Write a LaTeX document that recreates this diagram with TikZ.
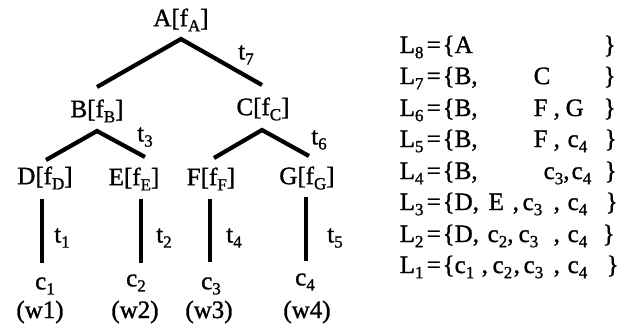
\documentclass[tikz,border=0pt]{standalone}
\usepackage{fontspec}
\setmainfont{Liberation Serif}[BoldFont=Liberation Serif, BoldFeatures={FakeBold=1.2}]
\newcommand{\sbs}[1]{\raisebox{-0.45ex}{\fontsize{17}{17}\selectfont #1}}
\newcommand{\colat}[2]{\makebox[0pt][l]{\hspace*{#1}#2}}
\newcommand{\pre}[1]{\colat{0pt}{L\sbs{#1}}\colat{27pt}{=}\colat{43pt}{\{}}
\begin{document}
\begin{tikzpicture}[x=1pt,y=-1pt,
  lab/.style={font=\fontsize{25}{25}\selectfont\bfseries, inner sep=0pt},
  tl/.style={font=\fontsize{25}{25}\selectfont\bfseries, inner sep=0pt},
  edge/.style={line width=4.2pt},
  row/.style={anchor=west, font=\fontsize{25}{25}\selectfont\bfseries, inner sep=0pt}]
\fill[white] (0,0) rectangle (622,327);
\useasboundingbox (0,0) rectangle (622,327);
% tree labels
\node[lab] (A) at (181,20) {A[f\sbs{A}]};
\node[lab] (B) at (97,111) {B[f\sbs{B}]};
\node[lab] (C) at (263,109) {C[f\sbs{C}]};
\node[lab] (D) at (45,178) {D[f\sbs{D}]};
\node[lab] (E) at (134,179) {E[f\sbs{E}]};
\node[lab] (F) at (211,179) {F[f\sbs{F}]};
\node[lab] (G) at (307,178) {G[f\sbs{G}]};
\node[lab] (c1) at (45,286) {c\sbs{1}};
\node[lab] (c2) at (136,283) {c\sbs{2}};
\node[lab] (c3) at (211,286) {c\sbs{3}};
\node[lab] (c4) at (305,282) {c\sbs{4}};
\node[lab] (w1) at (40,312) {(w1)};
\node[lab] (w2) at (135,312) {(w2)};
\node[lab] (w3) at (209,312) {(w3)};
\node[lab] (w4) at (307,312) {(w4)};
% edge labels
\node[tl] (t7) at (246,55) {t\sbs{7}};
\node[tl] (t3) at (145,137) {t\sbs{3}};
\node[tl] (t6) at (319,140) {t\sbs{6}};
\node[tl] (t1) at (62,238) {t\sbs{1}};
\node[tl] (t2) at (164,238) {t\sbs{2}};
\node[tl] (t4) at (234,238) {t\sbs{4}};
\node[tl] (t5) at (335,238) {t\sbs{5}};
% edge end points
\coordinate (Aa) at (181,39);
\coordinate (Bt) at (97,87);
\coordinate (Ct) at (262,85);
\coordinate (Ba) at (97,131);
\coordinate (Dt) at (46,160);
\coordinate (Et) at (145,157);
\coordinate (Ca) at (262,130);
\coordinate (Ft) at (214,158);
\coordinate (Gt) at (309,156);
\coordinate (Db) at (42,199);
\coordinate (D1) at (42,263);
\coordinate (Eb) at (141,199);
\coordinate (E1) at (141,263);
\coordinate (Fb) at (210,199);
\coordinate (F1) at (210,262);
\coordinate (Gb) at (306,197);
\coordinate (G1) at (306,261);
\draw[edge] (Bt) -- (Aa) -- (Ct);
\draw[edge] (Dt) -- (Ba) -- (Et);
\draw[edge] (Ft) -- (Ca) -- (Gt);
\draw[edge] (Db) -- (D1);
\draw[edge] (Eb) -- (E1);
\draw[edge] (Fb) -- (F1);
\draw[edge] (Gb) -- (G1);
% list
\node[row] (L8) at (399,47) {\pre{8}\colat{55pt}{A}\colat{204pt}{\}}};
\node[row] (L7) at (399,78) {\pre{7}\colat{55pt}{B,}\colat{134pt}{C}\colat{204pt}{\}}};
\node[row] (L6) at (399,110) {\pre{6}\colat{55pt}{B,}\colat{134pt}{F}\colat{154pt}{,}\colat{166pt}{G}\colat{204pt}{\}}};
\node[row] (L5) at (399,141) {\pre{5}\colat{55pt}{B,}\colat{134pt}{F}\colat{154pt}{,}\colat{168pt}{c\sbs{4}}\colat{205pt}{\}}};
\node[row] (L4) at (399,173) {\pre{4}\colat{55pt}{B,}\colat{144pt}{c\sbs{3},}\colat{172pt}{c\sbs{4}}\colat{205pt}{\}}};
\node[row] (L3) at (399,204) {\pre{3}\colat{55pt}{D,}\colat{89pt}{E}\colat{113pt}{,}\colat{123pt}{c\sbs{3}}\colat{154pt}{,}\colat{168pt}{c\sbs{4}}\colat{206pt}{\}}};
\node[row] (L2) at (399,236) {\pre{2}\colat{55pt}{D,}\colat{88pt}{c\sbs{2},}\colat{119pt}{c\sbs{3}}\colat{154pt}{,}\colat{168pt}{c\sbs{4}}\colat{203pt}{\}}};
\node[row] (L1) at (399,267) {\pre{1}\colat{55pt}{c\sbs{1}}\colat{82pt}{,}\colat{93pt}{c\sbs{2}}\colat{114pt}{,}\colat{124pt}{c\sbs{3}}\colat{154pt}{,}\colat{168pt}{c\sbs{4}}\colat{207pt}{\}}};
\end{tikzpicture}
\end{document}
